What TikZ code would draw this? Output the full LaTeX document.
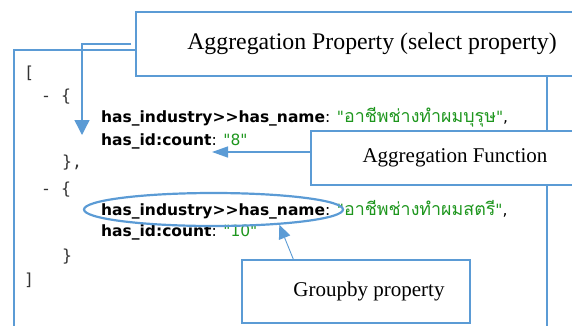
\documentclass[tikz,border=0pt]{standalone}
\usepackage{fontspec}
\setmainfont{Liberation Serif}
\newfontfamily\codefont{DejaVu Sans}
\newfontfamily\bracefont{DejaVu Sans Mono}
\newfontfamily\thaifont[Script=Thai,Scale=1.15]{Loma}
\usetikzlibrary{arrows.meta,shapes.geometric,calc}
\definecolor{lineblue}{HTML}{5B9BD5}
\definecolor{strgreen}{HTML}{1E961E}
\tikzset{
  callout/.style={draw=lineblue, line width=1.2pt, fill=white, inner sep=0pt,
    font=\fontsize{21}{24}\selectfont},
  codeline/.style={anchor=west, inner sep=0pt, font=\codefont\fontsize{15.5}{18}\selectfont},
  braceline/.style={anchor=west, inner sep=0pt, text=black!80,
    font=\bracefont\fontsize{16.5}{18}\selectfont},
  pointer/.style={draw=lineblue, line width=1.4pt, lineblue,
    -{Triangle[width=15pt,length=15pt]}},
}
\newcommand{\keyname}[1]{\textbf{#1}}
\newcommand{\strval}[1]{\textcolor{strgreen}{"#1"}}
\newcommand{\thval}[1]{\textcolor{strgreen}{"{\thaifont #1}"}}

\begin{document}
\begin{tikzpicture}[x=1pt,y=-1pt]
  \clip (0,0) rectangle (572,325);

  % json result box
  \draw[lineblue, line width=1.2pt] (14,50) rectangle (547,345);

  \node[braceline] (open) at (24,73) {[};
  \node[braceline] (item1) at (41,97) {-\ \textbraceleft};
  \node[codeline] (name1) at (101,117) {\keyname{has\_industry>>has\_name}: \thval{อาชีพช่างทำผมบุรุษ},};
  \node[codeline] (count1) at (101,141) {\keyname{has\_id:count}: \strval{8}};
  \node[braceline] (close1) at (62,163) {\textbraceright,};
  \node[braceline] (item2) at (41,190) {-\ \textbraceleft};
  \node[codeline] (name2) at (101,210) {\keyname{has\_industry>>has\_name}: \thval{อาชีพช่างทำผมสตรี},};
  \node[codeline] (count2) at (101,232) {\keyname{has\_id:count}: \strval{10}};
  \node[braceline] (close2) at (62,257) {\textbraceright};
  \node[braceline] (close) at (24,280) {]};

  % group-by key
  \node[draw=lineblue, line width=2.2pt, ellipse, inner sep=0pt,
    minimum width=259pt, minimum height=33pt] (grpkey) at (213.5,209.5) {};

  % callouts
  \node[callout, font=\fontsize{23.8}{27}\selectfont, minimum width=472pt, minimum height=64pt]
    (aggprop) at (372,44) {Aggregation Property (select property)};
  \node[callout, minimum width=288pt, minimum height=54pt]
    (aggfn) at (455,158) {Aggregation Function};
  \node[callout, minimum width=228pt, minimum height=63pt,
    label={[xshift=13pt, font=\fontsize{21}{24}\selectfont]center:Groupby property}]
    (grpby) at (356,291.5) {};

  % pointers
  \coordinate (tip1) at (82,135);
  \coordinate (tip2) at (212,152);
  \draw[pointer] ($(aggprop.west)+(-4,0)$) -| (tip1);
  \draw[pointer, -{Triangle[width=11pt,length=16pt]}] (aggfn.west |- tip2) -- (tip2);
  \draw[pointer, line width=0.9pt, -{Triangle[width=12pt,length=14pt]}]
    ($(grpby.north west)+(52,0)$) -- (grpkey.-13);
\end{tikzpicture}
\end{document}
